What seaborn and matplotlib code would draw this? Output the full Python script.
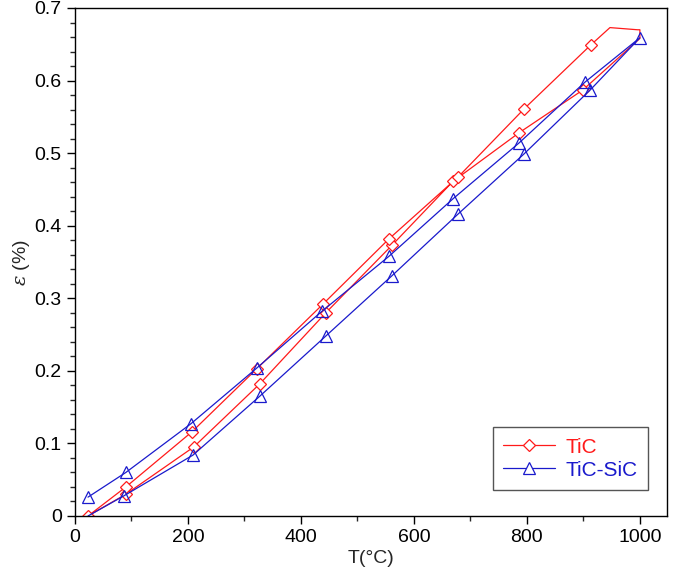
import numpy as np
import pandas as pd
import matplotlib
matplotlib.use("Agg")
import matplotlib.pyplot as plt
import seaborn as sns
from matplotlib.ticker import MultipleLocator, FixedLocator, FixedFormatter
from matplotlib.lines import Line2D

# TiC loop: heating branch then cooling branch (T in °C, strain in %)
tic_T = [23, 90, 210, 327, 444, 561, 669, 786, 899, 1000,
         1000, 996, 947, 913, 795, 678, 556, 439, 322, 207, 90, 23]
tic_eps = [0.0, 0.03, 0.095, 0.182, 0.280, 0.373, 0.461, 0.528, 0.587, 0.658,
           0.670, 0.670, 0.673, 0.649, 0.561, 0.467, 0.382, 0.292, 0.203, 0.116, 0.04, 0.0]
tic_marks = [0, 1, 2, 3, 4, 5, 6, 7, 8, 13, 14, 15, 16, 17, 18, 19, 20]

# TiC-SiC loop
sic_T = [23, 87, 209, 327, 444, 561, 678, 795, 912, 1000,
         903, 786, 669, 556, 437, 322, 205, 90, 23]
sic_eps = [0.0, 0.028, 0.084, 0.165, 0.248, 0.331, 0.416, 0.499, 0.587, 0.659,
           0.598, 0.514, 0.437, 0.358, 0.282, 0.204, 0.127, 0.06, 0.026]
sic_marks = list(range(1, 19))

series_names = ["TiC", "TiC-SiC"]
xticks = [0, 200, 400, 600, 800, 1000]
yticks = [0.0, 0.1, 0.2, 0.3, 0.4, 0.5, 0.6, 0.7]
ytick_labels = ["0", "0.1", "0.2", "0.3", "0.4", "0.5", "0.6", "0.7"]

sns.set_style("ticks")
plt.rcParams["font.family"] = ["Liberation Sans", "DejaVu Sans"]
plt.rcParams["mathtext.fontset"] = "dejavuserif"

RED = "#ff1a1a"
BLUE = "#1a1acc"

fig = plt.figure(figsize=(6.73, 5.81), dpi=100)
ax = fig.add_axes([75 / 673, 1 - 516 / 581, 592 / 673, 508 / 581])

df_tic = pd.DataFrame({"T": tic_T, "eps": tic_eps})
df_sic = pd.DataFrame({"T": sic_T, "eps": sic_eps})

sns.lineplot(data=df_tic, x="T", y="eps", sort=False, estimator=None, ax=ax,
             color=RED, linewidth=0.9, marker="D", markersize=6.5,
             markerfacecolor="white", markeredgecolor=RED, markeredgewidth=0.9,
             markevery=tic_marks)
sns.lineplot(data=df_sic, x="T", y="eps", sort=False, estimator=None, ax=ax,
             color=BLUE, linewidth=0.9, marker="^", markersize=8,
             markerfacecolor="none", markeredgecolor=BLUE, markeredgewidth=0.9,
             markevery=sic_marks)

ax.set_xlim(0, 1048)
ax.set_ylim(0, 0.7)
ax.xaxis.set_major_locator(FixedLocator(xticks))
ax.xaxis.set_minor_locator(MultipleLocator(100))
ax.yaxis.set_major_locator(FixedLocator(yticks))
ax.yaxis.set_major_formatter(FixedFormatter(ytick_labels))
ax.yaxis.set_minor_locator(MultipleLocator(0.02))
ax.tick_params(axis="both", which="major", direction="out", length=6, width=1,
               labelsize=14, colors="black")
ax.tick_params(axis="both", which="minor", direction="out", length=3.5, width=1)
for s in ax.spines.values():
    s.set_linewidth(1.0)
    s.set_color("black")
    s.set_visible(True)

ax.set_xlabel("T(°C)", fontsize=14, labelpad=3)
ax.set_ylabel(r"$\varepsilon$ (%)", fontsize=14, labelpad=2)

handles = [
    Line2D([], [], color=RED, linewidth=0.9, marker="D", markersize=6.5,
           markerfacecolor="white", markeredgecolor=RED, markeredgewidth=0.9),
    Line2D([], [], color=BLUE, linewidth=0.9, marker="^", markersize=8,
           markerfacecolor="white", markeredgecolor=BLUE, markeredgewidth=0.9),
]
leg = ax.legend(handles, series_names, loc="lower right",
                bbox_to_anchor=(0.968, 0.051), fontsize=15, frameon=True,
                fancybox=False, edgecolor="#555555", framealpha=1,
                handlelength=2.5, numpoints=1, borderpad=0.5, labelspacing=0.2,
                handletextpad=0.5, borderaxespad=0)
leg.get_frame().set_linewidth(1.0)
for t, c in zip(leg.get_texts(), [RED, BLUE]):
    t.set_color(c)

fig.savefig("out.png", dpi=100)
